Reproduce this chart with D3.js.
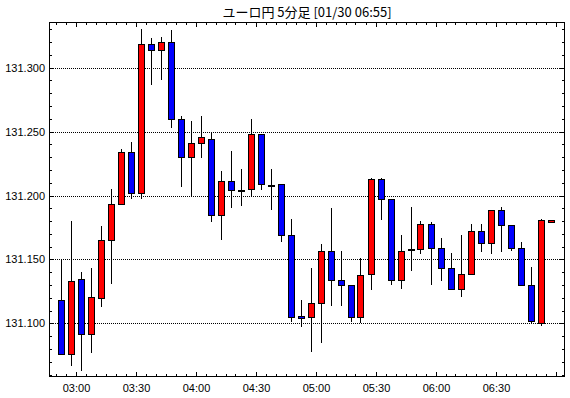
<!DOCTYPE html>
<html>
<head>
<meta charset="utf-8">
<script src="https://cdn.jsdelivr.net/npm/d3@7"></script>
<style>
  body { margin: 0; background: #fff; }
  svg { display: block; }
  .tick-label { font-family: "Liberation Sans", Arial, sans-serif; font-size: 11px; fill: #000; }
  .title { font-family: "Noto Sans CJK JP", sans-serif; font-size: 13px; fill: #000; }
</style>
</head>
<body>
<svg id="chart" width="570" height="398"></svg>
<script>
// 5 min candles, first one starts at 02:50
const firstStart = "02:50";
const open  = [131.118, 131.076, 131.135, 131.092, 131.120, 131.165, 131.193, 131.234, 131.202, 131.318,
               131.314, 131.320, 131.260, 131.230, 131.241, 131.244, 131.185, 131.211, 131.204, 131.205,
               131.248, 131.208, 131.209, 131.169, 131.106, 131.105, 131.116, 131.157, 131.134, 131.130,
               131.105, 131.139, 131.213, 131.197, 131.134, 131.158, 131.158, 131.178, 131.159, 131.143,
               131.127, 131.139, 131.172, 131.163, 131.189, 131.177, 131.159, 131.130, 131.100, 131.179];
const high  = [131.150, 131.180, 131.140, 131.143, 131.176, 131.205, 131.236, 131.242, 131.330, 131.323,
               131.324, 131.329, 131.262, 131.258, 131.262, 131.250, 131.219, 131.235, 131.221, 131.260,
               131.248, 131.221, 131.209, 131.182, 131.118, 131.143, 131.162, 131.190, 131.157, 131.130,
               131.151, 131.214, 131.214, 131.197, 131.169, 131.191, 131.180, 131.179, 131.167, 131.155,
               131.169, 131.178, 131.178, 131.189, 131.191, 131.177, 131.164, 131.144, 131.182, 131.181];
const low   = [131.076, 131.067, 131.063, 131.077, 131.113, 131.131, 131.193, 131.197, 131.197, 131.286,
               131.290, 131.253, 131.207, 131.200, 131.229, 131.179, 131.165, 131.190, 131.192, 131.200,
               131.204, 131.189, 131.164, 131.101, 131.097, 131.078, 131.085, 131.114, 131.114, 131.101,
               131.100, 131.126, 131.181, 131.130, 131.127, 131.141, 131.154, 131.130, 131.133, 131.127,
               131.121, 131.138, 131.156, 131.154, 131.156, 131.157, 131.130, 131.100, 131.098, 131.179];
const close = [131.076, 131.133, 131.092, 131.121, 131.165, 131.193, 131.234, 131.202, 131.318, 131.314,
               131.320, 131.260, 131.230, 131.241, 131.246, 131.185, 131.211, 131.204, 131.204, 131.248,
               131.209, 131.208, 131.169, 131.105, 131.104, 131.116, 131.157, 131.134, 131.130, 131.105,
               131.138, 131.213, 131.197, 131.134, 131.157, 131.158, 131.178, 131.159, 131.143, 131.127,
               131.139, 131.172, 131.163, 131.189, 131.177, 131.159, 131.130, 131.102, 131.181, 131.181];

const yTicks = [131.100, 131.150, 131.200, 131.250, 131.300];
const xTickLabels = ["03:00", "03:30", "04:00", "04:30", "05:00", "05:30", "06:00", "06:30"];
const titleText = "ユーロ円 5分足 [01/30 06:55]";

// helpers
function t(hhmm, extraSec = 0) {
    let [h, m] = hhmm.split(":").map(Number);
    return new Date(Date.UTC(2020, 0, 30, h, m, extraSec));
}

const svg = d3.select("#chart");
const L = 49, R = 565, T = 22, B = 377;

const x = d3.scaleUtc()
    .domain([t("02:46", 45), t("07:04", 45)])
    .range([L, R]);
const y = d3.scaleLinear()
    .domain([131.0582, 131.33555])
    .range([B, T]);

const candles = open.map((o, i) => {
    let start = d3.utcMinute.offset(t(firstStart), 5 * i);
    return {
        mid: d3.utcSecond.offset(start, 150),
        o: o, h: high[i], l: low[i], c: close[i]
    };
});

// grid lines
svg.append("g")
   .selectAll("line")
   .data(yTicks)
   .join("line")
   .attr("x1", L).attr("x2", R)
   .attr("y1", d => Math.round(y(d)) + 0.5)
   .attr("y2", d => Math.round(y(d)) + 0.5)
   .attr("stroke", "#000")
   .attr("stroke-dasharray", "1,1");

// axes with inward ticks
let minorY = d3.range(131.06, 131.335, 0.01).map(v => +v.toFixed(3));
let minorX = d3.utcMinute.every(5).range(t("02:50"), t("07:05"));
let majorX = xTickLabels.map(s => t(s));

function isMajorY(v) { return yTicks.some(k => Math.abs(k - v) < 1e-6); }
function isMajorX(d) { return d.getUTCMinutes() % 30 === 0; }

const ticks = svg.append("g").attr("stroke", "#000");

minorY.forEach(v => {
    let yy = Math.round(y(v)) + 0.5;
    let len = isMajorY(v) ? 5 : 3;
    ticks.append("line").attr("x1", L).attr("x2", L + len).attr("y1", yy).attr("y2", yy);
    ticks.append("line").attr("x1", R - len).attr("x2", R).attr("y1", yy).attr("y2", yy);
});

minorX.forEach(d => {
    let xx = Math.round(x(d)) + 0.5;
    let len = isMajorX(d) ? 5 : 3;
    ticks.append("line").attr("x1", xx).attr("x2", xx).attr("y1", B - len).attr("y2", B);
    ticks.append("line").attr("x1", xx).attr("x2", xx).attr("y1", T).attr("y2", T + len);
});

// labels
svg.append("g")
   .selectAll("text")
   .data(yTicks)
   .join("text")
   .attr("class", "tick-label")
   .attr("x", 45)
   .attr("y", d => y(d) + 4)
   .attr("text-anchor", "end")
   .text(d => d.toFixed(3));

svg.append("g")
   .selectAll("text")
   .data(majorX)
   .join("text")
   .attr("class", "tick-label")
   .attr("x", d => Math.round(x(d)) + 0.5)
   .attr("y", 392)
   .attr("text-anchor", "middle")
   .text((d, i) => xTickLabels[i]);

svg.append("text")
   .attr("class", "title")
   .attr("x", (L + R) / 2)
   .attr("y", 17)
   .attr("text-anchor", "middle")
   .text(titleText);

// candles
const cg = svg.append("g");

cg.selectAll("line.wick")
  .data(candles)
  .join("line")
  .attr("class", "wick")
  .attr("x1", d => Math.round(x(d.mid)) + 0.5)
  .attr("x2", d => Math.round(x(d.mid)) + 0.5)
  .attr("y1", d => Math.round(y(d.h)))
  .attr("y2", d => Math.round(y(d.l)))
  .attr("stroke", "#000");

cg.selectAll("rect.body")
  .data(candles)
  .join("rect")
  .attr("class", "body")
  .attr("x", d => Math.round(x(d.mid)) - 2.5)
  .attr("width", 6)
  .attr("y", d => Math.round(y(Math.max(d.o, d.c))) + 0.5)
  .attr("height", d => Math.max(1, Math.round(y(Math.min(d.o, d.c))) - Math.round(y(Math.max(d.o, d.c)))))
  .attr("fill", d => d.c > d.o ? "#ff0000" : (d.c < d.o ? "#0000ff" : "#000"))
  .attr("stroke", "#000")
  .attr("stroke-width", 1);

// frame
svg.append("rect")
   .attr("x", L + 0.5).attr("y", T + 0.5)
   .attr("width", R - L - 1).attr("height", B - T - 1)
   .attr("fill", "none")
   .attr("stroke", "#000");
</script>
</body>
</html>
